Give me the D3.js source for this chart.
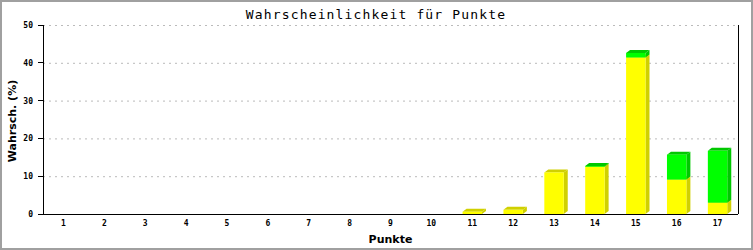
<!DOCTYPE html>
<html>
<head>
<meta charset="utf-8">
<script src="https://cdn.jsdelivr.net/npm/d3@7"></script>
<style>
  body { margin: 0; background: #fff; }
  svg { display: block; }
</style>
</head>
<body>
<script>
// Wahrscheinlichkeit pro Punktzahl, gestapelt (gelb unten, gruen oben)
var punkte = [1, 2, 3, 4, 5, 6, 7, 8, 9, 10, 11, 12, 13, 14, 15, 16, 17];
var gelb   = [0, 0, 0, 0, 0, 0, 0, 0, 0, 0, 0.6, 1.1, 11.0, 12.5, 41.4, 9.1, 3.0];
var gruen  = [0, 0, 0, 0, 0, 0, 0, 0, 0, 0, 0, 0, 0, 0.2, 1.2, 6.6, 13.7];
var yTicks = [0, 10, 20, 30, 40, 50];

var W = 753, H = 250;
var pLeft = 43, pRight = 738, pTop = 25, pBottom = 214;
var depthX = 4, depthY = 3;

var svg = d3.select("body").append("svg")
    .attr("width", W)
    .attr("height", H);

svg.append("rect")
  .attr("x", 1).attr("y", 1)
  .attr("width", W - 2).attr("height", H - 2)
  .attr("fill", "#fff")
  .attr("stroke", "#a0a0a0")
  .attr("stroke-width", 2);

var x = d3.scaleBand().domain(punkte).range([pLeft, pRight]);
var y = d3.scaleLinear().domain([0, 50]).range([pBottom, pTop]);
var barW = x.bandwidth() * 0.475;

// grid
svg.append("g").selectAll("line")
  .data(yTicks.filter(function(d) { return d > 0; }))
  .enter().append("line")
  .attr("x1", pLeft).attr("x2", pRight)
  .attr("y1", function(d) { return y(d) + 0.5; })
  .attr("y2", function(d) { return y(d) + 0.5; })
  .attr("stroke", "#bbb")
  .attr("stroke-dasharray", "2,4");

// segments
var segs = [];
punkte.forEach(function(p, i) {
  var base = 0;
  [[gelb[i], "#ffff00", "#d0d000"], [gruen[i], "#00ff00", "#00c800"]].forEach(function(s) {
    if (s[0] > 0) segs.push({p: p, y0: base, y1: base + s[0], front: s[1], side: s[2]});
    base += s[0];
  });
});

var bars = svg.append("g").selectAll("g")
  .data(segs)
  .enter().append("g");

bars.append("polygon")
  .attr("points", function(d) {
    var x1 = x(d.p) + x.bandwidth() / 2 + barW / 2, yt = y(d.y1), yb = y(d.y0);
    return [[x1, yt], [x1 + depthX, yt - depthY], [x1 + depthX, yb - depthY], [x1, yb]].join(" ");
  })
  .attr("fill", function(d) { return d.side; });

bars.append("polygon")
  .attr("points", function(d) {
    var x0 = x(d.p) + x.bandwidth() / 2 - barW / 2, yt = y(d.y1);
    return [[x0, yt], [x0 + depthX, yt - depthY], [x0 + barW + depthX, yt - depthY], [x0 + barW, yt]].join(" ");
  })
  .attr("fill", function(d) { return d.side; });

bars.append("rect")
  .attr("x", function(d) { return x(d.p) + x.bandwidth() / 2 - barW / 2; })
  .attr("y", function(d) { return y(d.y1); })
  .attr("width", barW)
  .attr("height", function(d) { return y(d.y0) - y(d.y1); })
  .attr("fill", function(d) { return d.front; });

// axes
var axes = svg.append("g").attr("stroke", "#000").attr("shape-rendering", "crispEdges");
axes.append("line").attr("x1", pLeft).attr("x2", pLeft).attr("y1", pTop).attr("y2", pBottom);
axes.append("line").attr("x1", pRight).attr("x2", pRight).attr("y1", pTop).attr("y2", pBottom);
axes.append("line").attr("x1", pLeft - 5).attr("x2", pRight).attr("y1", pBottom).attr("y2", pBottom);
axes.selectAll(".tk")
  .data(yTicks)
  .enter().append("line")
  .attr("x1", pLeft - 5).attr("x2", pLeft)
  .attr("y1", function(d) { return y(d); })
  .attr("y2", function(d) { return y(d); });

var small = "'DejaVu Sans Mono', monospace";

svg.append("g").selectAll("text")
  .data(yTicks)
  .enter().append("text")
  .attr("x", 33)
  .attr("y", function(d) { return y(d) + 3; })
  .attr("text-anchor", "end")
  .attr("font-family", small)
  .attr("font-size", 8)
  .attr("font-weight", "bold")
  .text(function(d) { return d; });

svg.append("g").selectAll("text")
  .data(punkte)
  .enter().append("text")
  .attr("x", function(d) { return x(d) + x.bandwidth() / 2; })
  .attr("y", 226)
  .attr("text-anchor", "middle")
  .attr("font-family", small)
  .attr("font-size", 8)
  .attr("font-weight", "bold")
  .text(function(d) { return d; });

svg.append("text")
  .attr("x", 376)
  .attr("y", 19)
  .attr("text-anchor", "middle")
  .attr("font-family", "'DejaVu Sans Mono', monospace")
  .attr("font-size", 13)
  .attr("letter-spacing", 1.15)
  .text("Wahrscheinlichkeit für Punkte");

svg.append("text")
  .attr("x", (pLeft + pRight) / 2)
  .attr("y", 243)
  .attr("text-anchor", "middle")
  .attr("font-family", "'DejaVu Sans', sans-serif")
  .attr("font-weight", "bold")
  .attr("font-size", 11)
  .text("Punkte");

svg.append("text")
  .attr("transform", "translate(16,121) rotate(-90)")
  .attr("text-anchor", "middle")
  .attr("font-family", "'DejaVu Sans', sans-serif")
  .attr("font-weight", "bold")
  .attr("font-size", 11)
  .text("Wahrsch. (%)");
</script>
</body>
</html>
